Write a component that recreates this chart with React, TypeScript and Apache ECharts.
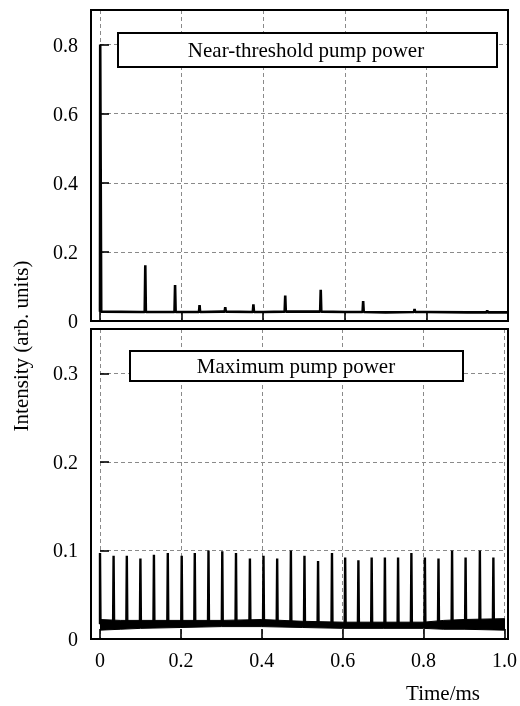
import React, { useEffect, useRef } from "react";
import * as echarts from "echarts";

// ---- Data ----
// Top panel: near-threshold pump power
const nearSpikeTimes = [0, 0.111, 0.184, 0.244, 0.307, 0.376, 0.454, 0.541, 0.645, 0.771, 0.949];
const nearSpikePeaks = [0.8, 0.161, 0.104, 0.046, 0.04, 0.048, 0.074, 0.09, 0.058, 0.035, 0.031];
const nearBaseTimes = [0, 0.1, 0.2, 0.3, 0.4, 0.5, 0.6, 0.7, 0.8, 0.9, 1.0];
const nearBaseValues = [0.027, 0.026, 0.026, 0.027, 0.026, 0.027, 0.026, 0.025, 0.026, 0.025, 0.025];

// Bottom panel: maximum pump power
const maxSpikeTimes = [
  0, 0.0336, 0.0663, 0.0999, 0.1333, 0.1676, 0.202, 0.2343, 0.2682, 0.3023,
  0.3362, 0.3706, 0.4042, 0.438, 0.4719, 0.5055, 0.5391, 0.5735, 0.6061, 0.6388,
  0.6716, 0.7043, 0.7369, 0.7698, 0.8032, 0.8368, 0.8704, 0.9038, 0.9391, 0.9725,
];
const maxSpikePeaks = [
  0.097, 0.094, 0.094, 0.091, 0.095, 0.097, 0.094, 0.097, 0.1, 0.099,
  0.097, 0.091, 0.094, 0.091, 0.1, 0.094, 0.088, 0.097, 0.092, 0.089,
  0.092, 0.092, 0.092, 0.097, 0.092, 0.091, 0.1, 0.092, 0.1, 0.092,
];
const bandTimes = [0, 0.05, 0.1, 0.2, 0.3, 0.4, 0.5, 0.6, 0.7, 0.8, 0.85, 0.9, 1.0];
const bandLow = [0.01, 0.011, 0.012, 0.013, 0.014, 0.014, 0.013, 0.012, 0.012, 0.012, 0.011, 0.011, 0.01];
const bandHigh = [0.022, 0.021, 0.021, 0.021, 0.021, 0.022, 0.02, 0.019, 0.019, 0.019, 0.021, 0.022, 0.023];
const bandMid = 0.017;

const xTicks = [0, 0.2, 0.4, 0.6, 0.8, 1.0];
const topYMax = 0.9;
const bottomYMax = 0.35;

const FONT = '"Liberation Serif", "Times New Roman", serif';

function nearestBase(t: number): number {
  let best = 0;
  for (let i = 1; i < nearBaseTimes.length; i++) {
    if (Math.abs(nearBaseTimes[i] - t) < Math.abs(nearBaseTimes[best] - t)) best = i;
  }
  return nearBaseValues[best];
}

function buildNear(): number[][] {
  const pts: number[][] = [];
  nearBaseTimes.forEach((t, i) => {
    if (t > 0.004) pts.push([t, nearBaseValues[i]]);
  });
  nearSpikeTimes.forEach((t, i) => {
    const b = nearestBase(t);
    if (t === 0) {
      pts.push([0, b]);
      pts.push([0.0005, nearSpikePeaks[i]]);
      pts.push([0.003, b]);
    } else {
      pts.push([t - 0.0014, b]);
      pts.push([t, nearSpikePeaks[i]]);
      pts.push([t + 0.0014, b]);
    }
  });
  pts.sort((a, b) => a[0] - b[0]);
  return pts;
}

function buildMax(): number[][] {
  const pts: number[][] = [];
  maxSpikeTimes.forEach((t, i) => {
    pts.push([Math.max(0, t - 0.0012), bandMid]);
    pts.push([t, maxSpikePeaks[i]]);
    pts.push([t + 0.0012, bandMid]);
  });
  pts.push([1, bandMid]);
  return pts;
}

const fmt = (v: number) => (v === 0 ? "0" : v.toFixed(1));

export default function App() {
  const ref = useRef<HTMLDivElement>(null);
  useEffect(() => {
    if (!ref.current) return;
    const chart = echarts.init(ref.current, undefined, { renderer: "svg" });
    const splitLine = { show: true, lineStyle: { color: "#8a8a8a", type: [4, 3] as any, width: 1 } };
    const tick = { inside: true, length: 10, lineStyle: { color: "#000", width: 1.6 } };
    const xCommon = {
      type: "value",
      min: 0,
      max: 1,
      interval: 0.2,
      axisLine: { show: false },
      axisTick: tick,
      splitLine,
    };
    const yLabel = {
      margin: 13,
      fontSize: 20,
      color: "#000",
      fontFamily: FONT,
      showMaxLabel: false,
      formatter: (v: number) => fmt(v),
    };
    const option: any = {
      animation: false,
      textStyle: { fontFamily: FONT },
      grid: [
        { left: 100, right: 12, top: 10, height: 311 },
        { left: 100, right: 12, top: 329, height: 310 },
      ],
      xAxis: [
        { ...xCommon, gridIndex: 0, axisLabel: { show: false } },
        {
          ...xCommon,
          gridIndex: 1,
          axisLabel: {
            show: true,
            margin: 11,
            fontSize: 20,
            color: "#000",
            fontFamily: FONT,
            formatter: (v: number) => (xTicks.some((x) => Math.abs(x - v) < 1e-9) ? fmt(v) : ""),
          },
        },
      ],
      yAxis: [
        {
          type: "value",
          gridIndex: 0,
          min: 0,
          max: topYMax,
          interval: 0.2,
          offset: 9,
          axisLine: { show: false },
          axisTick: { ...tick, length: 9 },
          axisLabel: yLabel,
          splitLine,
        },
        {
          type: "value",
          gridIndex: 1,
          min: 0,
          max: bottomYMax,
          interval: 0.1,
          offset: 9,
          axisLine: { show: false },
          axisTick: { ...tick, length: 9 },
          axisLabel: yLabel,
          splitLine,
        },
      ],
      series: [
        {
          type: "line",
          xAxisIndex: 0,
          yAxisIndex: 0,
          data: buildNear(),
          showSymbol: false,
          symbol: "none",
          lineStyle: { color: "#000", width: 2.6 },
          z: 5,
        },
        {
          type: "custom",
          xAxisIndex: 1,
          yAxisIndex: 1,
          data: bandTimes.map((t, i) => [t, bandLow[i], bandHigh[i]]),
          encode: { x: 0, y: [1, 2] },
          clip: true,
          z: 4,
          renderItem: (params: any, api: any) => {
            if (params.dataIndex !== 0) return null;
            const upper = bandTimes.map((t, i) => api.coord([t, bandHigh[i]]));
            const lower = bandTimes.map((t, i) => api.coord([t, bandLow[i]])).reverse();
            return {
              type: "polygon",
              shape: { points: upper.concat(lower) },
              style: { fill: "#000", stroke: "#000", lineWidth: 1 },
            };
          },
        },
        {
          type: "line",
          xAxisIndex: 1,
          yAxisIndex: 1,
          data: buildMax(),
          showSymbol: false,
          symbol: "none",
          lineStyle: { color: "#000", width: 2.4 },
          z: 5,
        },
      ],
      graphic: [
        {
          type: "rect",
          z: 50,
          shape: { x: 91, y: 10, width: 417, height: 311 },
          style: { fill: "none", stroke: "#000", lineWidth: 2 },
        },
        {
          type: "rect",
          z: 50,
          shape: { x: 91, y: 329, width: 417, height: 310 },
          style: { fill: "none", stroke: "#000", lineWidth: 2 },
        },
        {
          type: "rect",
          z: 60,
          shape: { x: 118, y: 33, width: 379, height: 34 },
          style: { fill: "#fff", stroke: "#000", lineWidth: 2 },
        },
        {
          type: "text",
          z: 61,
          x: 306,
          y: 50,
          style: {
            text: "Near-threshold pump power",
            font: `21px ${FONT}`,
            fill: "#000",
            align: "center",
            verticalAlign: "middle",
          },
        },
        {
          type: "rect",
          z: 60,
          shape: { x: 130, y: 351, width: 333, height: 30 },
          style: { fill: "#fff", stroke: "#000", lineWidth: 2 },
        },
        {
          type: "text",
          z: 61,
          x: 296,
          y: 366,
          style: {
            text: "Maximum pump power",
            font: `21px ${FONT}`,
            fill: "#000",
            align: "center",
            verticalAlign: "middle",
          },
        },
        {
          type: "text",
          z: 61,
          x: 21,
          y: 346,
          rotation: Math.PI / 2,
          style: {
            text: "Intensity (arb. units)",
            font: `21px ${FONT}`,
            fill: "#000",
            align: "center",
            verticalAlign: "middle",
          },
        },
        {
          type: "text",
          z: 61,
          x: 443,
          y: 693,
          style: {
            text: "Time/ms",
            font: `21px ${FONT}`,
            fill: "#000",
            align: "center",
            verticalAlign: "middle",
          },
        },
      ],
    };
    chart.setOption(option);
    return () => chart.dispose();
  }, []);
  return (
    <div
      ref={ref}
      style={{ position: "fixed", left: 0, top: 0, width: 520, height: 706 }}
    />
  );
}
